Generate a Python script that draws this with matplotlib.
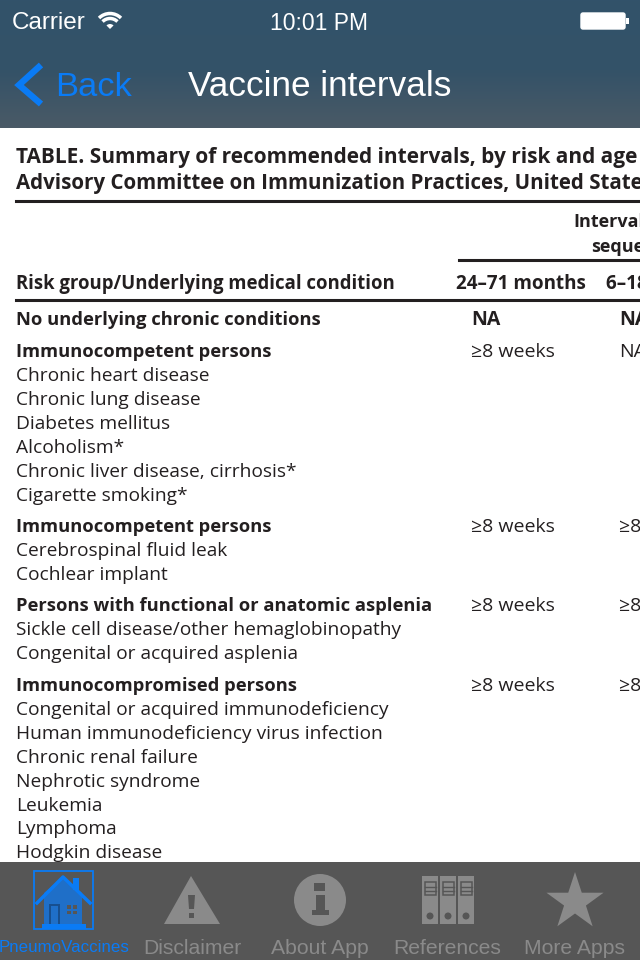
import numpy as np
import matplotlib
matplotlib.use('Agg')
import matplotlib.pyplot as plt
from matplotlib.patches import Rectangle, Polygon, Circle, Arc, Wedge, FancyBboxPatch

# table text: (row y, label, bold)
title_lines = ['TABLE. Summary of recommended intervals, by risk and age',
               'Advisory Committee on Immunization Practices, United States']
title_y = [155, 181]
title_size = [15, 14.8]
header_label = 'Risk group/Underlying medical condition'
col_heads = ['24–71 months', '6–18 years']
span_lines = ['Interval', 'sequence']

row_labels = ['No underlying chronic conditions', 'Immunocompetent persons', 'Chronic heart disease',
              'Chronic lung disease', 'Diabetes mellitus', 'Alcoholism*',
              'Chronic liver disease, cirrhosis*', 'Cigarette smoking*',
              'Immunocompetent persons', 'Cerebrospinal fluid leak', 'Cochlear implant',
              'Persons with functional or anatomic asplenia', 'Sickle cell disease/other hemaglobinopathy',
              'Congenital or acquired asplenia', 'Immunocompromised persons',
              'Congenital or acquired immunodeficiency', 'Human immunodeficiency virus infection',
              'Chronic renal failure', 'Nephrotic syndrome', 'Leukemia', 'Lymphoma', 'Hodgkin disease']
row_y = [318, 350, 374, 398, 422, 446, 470, 494, 525, 549, 573, 604, 628, 652, 684, 708, 732, 756, 780, 804, 827, 851]
row_bold = [1, 1, 0, 0, 0, 0, 0, 0, 1, 0, 0, 1, 0, 0, 1, 0, 0, 0, 0, 0, 0, 0]

col1_y = [318, 350, 525, 604, 684]
col1_vals = ['NA', '≥8 weeks', '≥8 weeks', '≥8 weeks', '≥8 weeks']
col2_vals = ['NA', 'NA', '≥8 weeks', '≥8 weeks', '≥8 weeks']

tab_names = ['PneumoVaccines', 'Disclaimer', 'About App', 'References', 'More Apps']
tab_x = [64, 192, 320, 447, 575]

BLUE = '#0a7bf5'
GREY = '#8a8a8a'
DARK = '#565656'
INK = '#231f20'
BODY = 'Open Sans'
UI = 'Liberation Sans'
DY = 2  # va='center' sits a bit high for these fonts

fig = plt.figure(figsize=(6.4, 9.6), dpi=100)
ax = fig.add_axes([0, 0, 1, 1])

# nav bar gradient
top, mid, bot = np.array([50, 82, 106]), np.array([52, 82, 104]), np.array([74, 90, 102])
n = 128
pix = np.zeros((n, 1, 3))
for i in range(n):
    t = i / (n - 1)
    pix[i, 0] = (top + (mid - top) * t / 0.55) if t < 0.55 else (mid + (bot - mid) * (t - 0.55) / 0.45)
ax.imshow(pix / 255, extent=[0, 640, 128, 0], aspect='auto', zorder=0)
ax.set_xlim(0, 640)
ax.set_ylim(960, 0)
ax.axis('off')

ax.text(12, 21 + DY, 'Carrier', color='white', fontsize=17.5, family=UI, va='center')
ax.text(319, 21 + DY, '10:01 PM', color='white', fontsize=16.5, family=UI, va='center', ha='center')
ax.text(319.5, 85 + DY, 'Vaccine intervals', color='white', fontsize=25.3, family=UI, va='center', ha='center')
ax.text(55, 85 + DY, 'Back', color=BLUE, fontsize=24.8, family=UI, va='center')
ax.plot([41, 19, 41], [65, 85, 104], color=BLUE, lw=4.6, solid_joinstyle='miter', solid_capstyle='butt')

# wifi
ax.add_patch(Wedge((110, 29), 5, 225, 315, color='white', lw=0))
for r in (10.5, 15.5):
    ax.add_patch(Arc((110, 29), 2 * r, 2 * r, theta1=225, theta2=315, color='white', lw=2.5))

# battery
ax.add_patch(FancyBboxPatch((581, 13), 44, 16, boxstyle='round,pad=0,rounding_size=2',
                            fc='white', ec='white', lw=1))
ax.add_patch(Rectangle((626, 18), 2.5, 6, color='white', lw=0))

# table
for s, y, fs in zip(title_lines, title_y, title_size):
    ax.text(16, y + DY, s, fontsize=fs, fontweight='bold', family=BODY, color=INK, va='center')
ax.plot([16, 640], [201, 201], color=INK, lw=2.2)
ax.plot([459, 640], [260, 260], color=INK, lw=2.2)
ax.plot([16, 640], [300, 300], color=INK, lw=2.2)
ax.text(573, 220 + DY, span_lines[0], fontsize=13, fontweight='bold', family=BODY, color=INK, va='center')
ax.text(591, 245 + DY, span_lines[1], fontsize=13, fontweight='bold', family=BODY, color=INK, va='center')
ax.text(16, 282 + DY, header_label, fontsize=13.35, fontweight='bold', family=BODY, color=INK, va='center')
ax.text(456, 282 + DY, col_heads[0], fontsize=13.6, fontweight='bold', family=BODY, color=INK, va='center')
ax.text(606, 282 + DY, col_heads[1], fontsize=13.6, fontweight='bold', family=BODY, color=INK, va='center')

for s, y, b in zip(row_labels, row_y, row_bold):
    ax.text(16, y + DY, s, fontsize=13.2 if b else 13.8, fontweight='bold' if b else 'normal',
            family=BODY, color=INK, va='center')
for i, y in enumerate(col1_y):
    w = 'bold' if i == 0 else 'normal'
    ax.text(471, y + DY, col1_vals[i], fontsize=14, fontweight=w, family=BODY, color=INK, va='center')
    ax.text(619, y + DY, col2_vals[i], fontsize=14, fontweight=w, family=BODY, color=INK, va='center')

# tab bar
ax.add_patch(Rectangle((0, 862), 640, 98, color=DARK, lw=0, zorder=3))
for i, (s, x) in enumerate(zip(tab_names, tab_x)):
    ax.text(x, 946 + DY, s, color=BLUE if i == 0 else GREY, fontsize=12.2 if i == 0 else 15.2, family=UI,
            ha='center', va='center', zorder=5)

# home icon
ax.add_patch(Rectangle((33.5, 870.5), 59, 58, fc='none', ec=BLUE, lw=1.3, zorder=5))
ax.add_patch(Polygon([[44, 893], [63, 877], [82, 893], [82, 925], [44, 925]], color='#1f6fc8', lw=0, zorder=4))
ax.plot([37, 63, 90], [903, 877, 903], color=BLUE, lw=2.5, zorder=5)
ax.add_patch(Rectangle((73, 878), 6, 12, color=BLUE, lw=0, zorder=5))
ax.add_patch(Rectangle((42, 924), 44, 5, color=BLUE, lw=0, zorder=5))
ax.add_patch(Rectangle((49, 904), 11, 20, fc='#174f8f', ec='none', zorder=5))
ax.add_patch(Rectangle((51, 906), 7, 18, fc='#1f6fc8', ec='none', zorder=5))
ax.add_patch(Rectangle((67, 905), 4, 3.5, fc=DARK, ec='none', zorder=5))
ax.add_patch(Rectangle((73, 905), 4, 3.5, fc=DARK, ec='none', zorder=5))
ax.add_patch(Rectangle((67, 910.5), 4, 3.5, fc=DARK, ec='none', zorder=5))
ax.add_patch(Rectangle((73, 910.5), 4, 3.5, fc=DARK, ec='none', zorder=5))

# warning icon
ax.add_patch(Polygon([[191, 876], [164, 924], [220, 924]], color=GREY, lw=0, zorder=4))
ax.add_patch(Polygon([[188, 895], [195, 895], [194, 909], [189, 909]], color=DARK, lw=0, zorder=5))
ax.add_patch(Rectangle((189, 913), 5, 5, color=DARK, lw=0, zorder=5))

# info icon
ax.add_patch(Circle((320, 900), 26, color=GREY, lw=0, zorder=4))
ax.add_patch(Rectangle((314, 883), 11, 8, color=DARK, lw=0, zorder=5))
ax.add_patch(Rectangle((316, 895), 9, 17, color=DARK, lw=0, zorder=5))
ax.add_patch(Rectangle((312, 910), 17, 5, color=DARK, lw=0, zorder=5))

# binders icon
for x in (422, 440, 458):
    ax.add_patch(Rectangle((x, 876), 16, 48, color=GREY, lw=0, zorder=4))
    ax.add_patch(Rectangle((x + 2.5, 882), 11, 13, fc=GREY, ec=DARK, lw=1.1, zorder=5))
    ax.plot([x + 2.5, x + 13.5], [886.5, 886.5], color=DARK, lw=1, zorder=5)
    ax.plot([x + 2.5, x + 13.5], [890.5, 890.5], color=DARK, lw=1, zorder=5)
    ax.add_patch(Circle((x + 8, 916), 3.5, color=DARK, lw=0, zorder=5))

# star icon
ang = np.deg2rad(np.arange(0, 360, 36) - 90)
rad = np.where(np.arange(10) % 2 == 0, 30, 11.5)
ax.add_patch(Polygon(np.c_[575 + rad * np.cos(ang), 902 + rad * np.sin(ang)], color=GREY, lw=0, zorder=4))

fig.savefig('out.png', dpi=100)
